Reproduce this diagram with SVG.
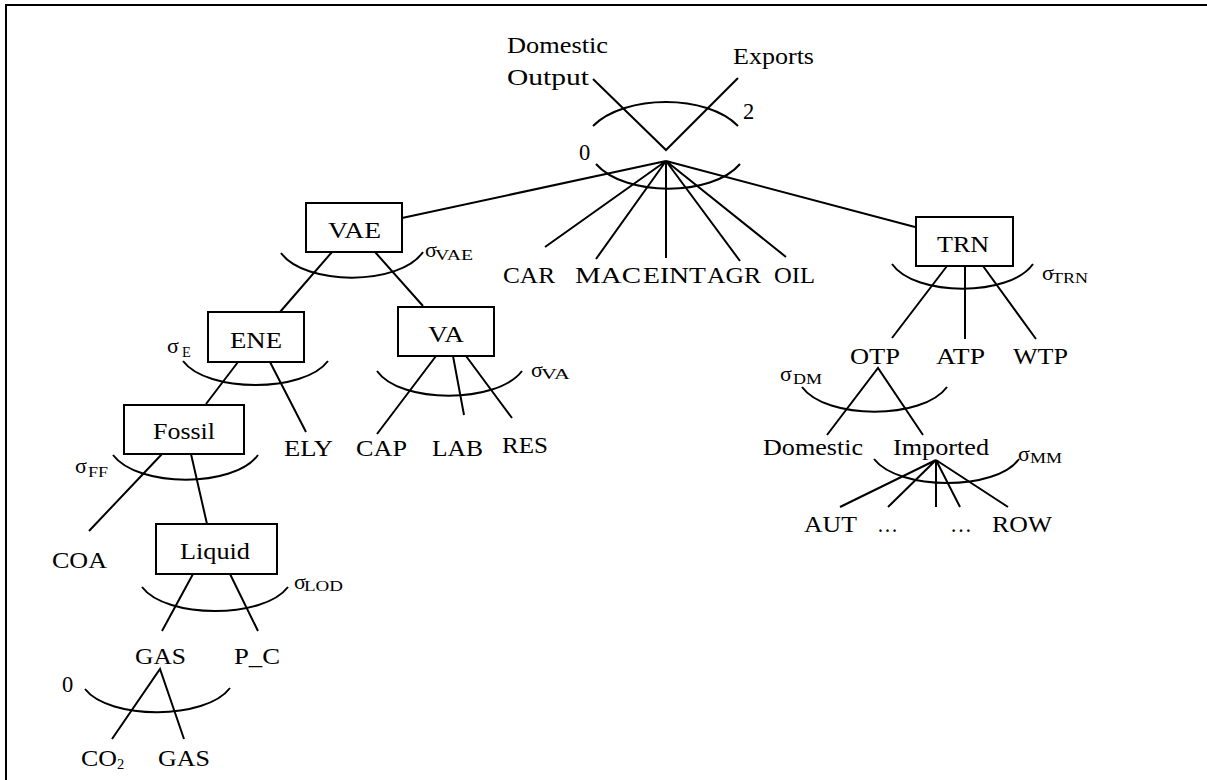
<svg xmlns="http://www.w3.org/2000/svg" width="1207" height="780" viewBox="0 0 1207 780">
<style>
.t{font-family:"Liberation Serif","Times New Roman",serif;font-size:22.5px;fill:#000}
.s{font-family:"Liberation Serif","Times New Roman",serif;font-size:14.5px;fill:#000}
.g{font-family:"Liberation Serif","Times New Roman",serif;font-size:22px;fill:#000}
.ln{stroke:#000;stroke-width:2;fill:none}
.box{stroke:#000;stroke-width:2;fill:#fff}
.arc{stroke:#000;stroke-width:2;fill:none}
</style>
<rect width="1207" height="780" fill="#fff"/>
<g id="frame"><path class="ln" d="M6,780 V5 H1207"/></g>
<g id="connectors">
<path class="ln" d="M593,79 L666,150 L738,78"/>
<path class="ln" d="M666,161 L402,218 M666,161 L915,227 M666,161 L545,247 M666,161 L596,259 M666,161 L666,258 M666,161 L740,261 M666,161 L786,257"/>
<path class="ln" d="M332,252 L280,312 M375,252 L423,306"/>
<path class="ln" d="M238,362 L206,404 M270,362 L306,432"/>
<path class="ln" d="M436,356 L377,434 M453,356 L464,415 M466,356 L512,418"/>
<path class="ln" d="M162,454 L89,531 M191,454 L207,524"/>
<path class="ln" d="M193,574 L162,631 M230,574 L258,631"/>
<path class="ln" d="M112,739 L160,669 L184,739"/>
<path class="ln" d="M947,266 L892,338 M965,266 L965,339 M983,266 L1036,339"/>
<path class="ln" d="M827,435 L878,368 L923,435"/>
<path class="ln" d="M936,460 L840,507 M936,460 L888,507 M936,460 L936,507 M936,460 L960,507 M936,460 L1008,507"/>
</g>
<g id="output">
<text class="t" x="507" y="53" textLength="101" lengthAdjust="spacingAndGlyphs">Domestic</text>
<text class="t" x="507" y="85" textLength="82" lengthAdjust="spacingAndGlyphs">Output</text>
<text class="t" x="733" y="64" textLength="81" lengthAdjust="spacingAndGlyphs">Exports</text>
<text class="t" x="743" y="119">2</text>
<path class="arc" d="M593,126 C625,94 707,94 738,126"/>
</g>
<g id="top">
<text class="t" x="579" y="160">0</text>
<path class="arc" d="M596,164 C625,197 712,197 740,164"/>
</g>
<g id="vae">
<rect class="box" x="306" y="203" width="96" height="49"/>
<text class="t" x="328" y="238" textLength="53" lengthAdjust="spacingAndGlyphs">VAE</text>
<path class="arc" d="M281,253 C305,286 400,286 423,252"/>
<text class="g" x="425" y="257">σ</text><text class="s" x="435" y="260" textLength="38" lengthAdjust="spacingAndGlyphs">VAE</text>
</g>
<g id="car"><text class="t" x="503" y="283" textLength="52" lengthAdjust="spacingAndGlyphs">CAR</text></g>
<g id="mac"><text class="t" x="575" y="283" textLength="66" lengthAdjust="spacingAndGlyphs">MAC</text></g>
<g id="eint"><text class="t" x="643" y="283" textLength="63" lengthAdjust="spacingAndGlyphs">EINT</text></g>
<g id="agr"><text class="t" x="707" y="283" textLength="54" lengthAdjust="spacingAndGlyphs">AGR</text></g>
<g id="oil"><text class="t" x="774" y="283" textLength="41" lengthAdjust="spacingAndGlyphs">OIL</text></g>
<g id="trn">
<rect class="box" x="916" y="217" width="97" height="49"/>
<text class="t" x="937" y="252" textLength="52" lengthAdjust="spacingAndGlyphs">TRN</text>
<path class="arc" d="M892,264 C915,297 1010,297 1033,264"/>
<text class="g" x="1042" y="280">σ</text><text class="s" x="1052" y="283" textLength="36" lengthAdjust="spacingAndGlyphs">TRN</text>
</g>
<g id="ene">
<rect class="box" x="208" y="312" width="96" height="50"/>
<text class="t" x="230" y="348" textLength="52" lengthAdjust="spacingAndGlyphs">ENE</text>
<path class="arc" d="M183,361 C207,393 304,393 328,361"/>
<text class="g" x="167" y="353">σ</text><text class="s" x="182" y="357">E</text>
</g>
<g id="va">
<rect class="box" x="398" y="307" width="96" height="49"/>
<text class="t" x="428" y="342" textLength="36" lengthAdjust="spacingAndGlyphs">VA</text>
<path class="arc" d="M377,371 C400,404 497,404 522,371"/>
<text class="g" x="531" y="377">σ</text><text class="s" x="541" y="379" textLength="29" lengthAdjust="spacingAndGlyphs">VA</text>
</g>
<g id="fossil">
<rect class="box" x="124" y="405" width="120" height="49"/>
<text class="t" x="122" y="439" textLength="62" lengthAdjust="spacingAndGlyphs" transform="translate(31,0)">Fossil</text>
<path class="arc" d="M113,455 C138,488 234,488 258,455"/>
<text class="g" x="75" y="473">σ</text><text class="s" x="88" y="477" textLength="20" lengthAdjust="spacingAndGlyphs">FF</text>
</g>
<g id="ely"><text class="t" x="284" y="456" textLength="49" lengthAdjust="spacingAndGlyphs">ELY</text></g>
<g id="cap"><text class="t" x="356" y="456" textLength="51" lengthAdjust="spacingAndGlyphs">CAP</text></g>
<g id="lab"><text class="t" x="432" y="456" textLength="51" lengthAdjust="spacingAndGlyphs">LAB</text></g>
<g id="res"><text class="t" x="502" y="453" textLength="46" lengthAdjust="spacingAndGlyphs">RES</text></g>
<g id="coa"><text class="t" x="52" y="568" textLength="55" lengthAdjust="spacingAndGlyphs">COA</text></g>
<g id="liquid">
<rect class="box" x="156" y="524" width="121" height="50"/>
<text class="t" x="180" y="559" textLength="70" lengthAdjust="spacingAndGlyphs">Liquid</text>
<path class="arc" d="M142,587 C166,619 264,619 288,587"/>
<text class="g" x="294" y="589">σ</text><text class="s" x="304" y="591" textLength="39" lengthAdjust="spacingAndGlyphs">LOD</text>
</g>
<g id="gas">
<text class="t" x="135" y="664" textLength="51" lengthAdjust="spacingAndGlyphs">GAS</text>
<text class="t" x="62" y="692">0</text>
<path class="arc" d="M85,689 C109,720 206,720 230,688"/>
</g>
<g id="pc"><text class="t" x="234" y="664" textLength="46" lengthAdjust="spacingAndGlyphs">P_C</text></g>
<g id="co2"><text class="t" x="81" y="766" textLength="36" lengthAdjust="spacingAndGlyphs">CO</text><text class="s" x="117" y="769">2</text></g>
<g id="gas2"><text class="t" x="158" y="766" textLength="52" lengthAdjust="spacingAndGlyphs">GAS</text></g>
<g id="otp">
<text class="t" x="850" y="364" textLength="50" lengthAdjust="spacingAndGlyphs">OTP</text>
<path class="arc" d="M802,387 C826,420 923,420 947,387"/>
<text class="g" x="780" y="381">σ</text><text class="s" x="793" y="384" textLength="29" lengthAdjust="spacingAndGlyphs">DM</text>
</g>
<g id="atp"><text class="t" x="936" y="364" textLength="49" lengthAdjust="spacingAndGlyphs">ATP</text></g>
<g id="wtp"><text class="t" x="1013" y="364" textLength="55" lengthAdjust="spacingAndGlyphs">WTP</text></g>
<g id="domestic"><text class="t" x="763" y="455" textLength="100" lengthAdjust="spacingAndGlyphs">Domestic</text></g>
<g id="imported">
<text class="t" x="893" y="455" textLength="96" lengthAdjust="spacingAndGlyphs">Imported</text>
<path class="arc" d="M874,459 C899,491 996,491 1019,459"/>
<text class="g" x="1018" y="461">σ</text><text class="s" x="1030" y="463" textLength="32" lengthAdjust="spacingAndGlyphs">MM</text>
</g>
<g id="aut"><text class="t" x="804" y="532" textLength="53" lengthAdjust="spacingAndGlyphs">AUT</text></g>
<g id="dots1"><text class="t" x="877" y="532" textLength="21" lengthAdjust="spacingAndGlyphs">…</text></g>
<g id="dots2"><text class="t" x="950" y="532" textLength="22" lengthAdjust="spacingAndGlyphs">…</text></g>
<g id="row"><text class="t" x="992" y="532" textLength="60" lengthAdjust="spacingAndGlyphs">ROW</text></g>
</svg>
